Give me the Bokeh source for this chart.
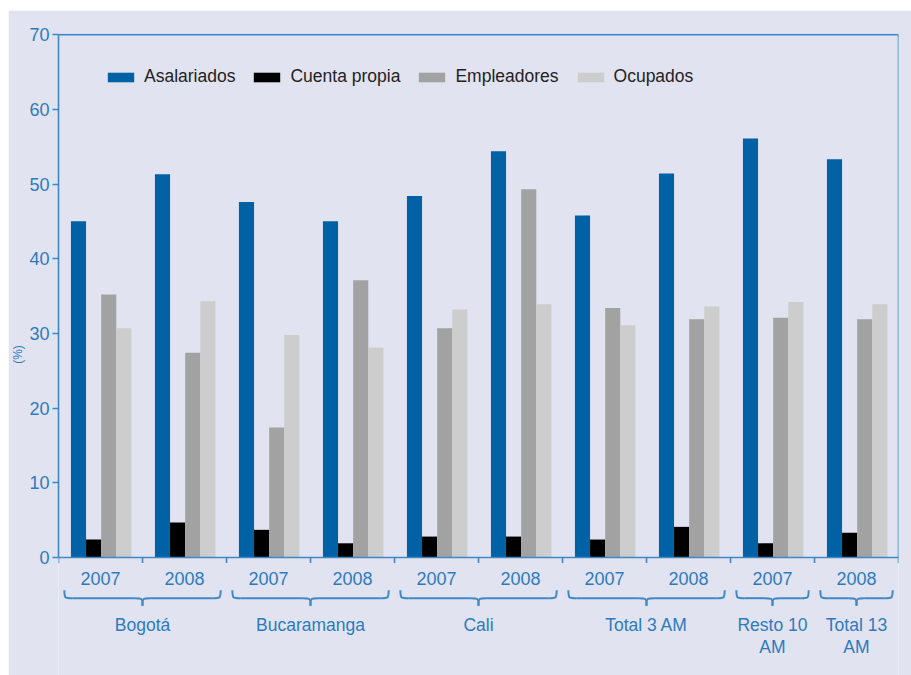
from bokeh.plotting import figure
from bokeh.models import Range1d, FixedTicker, Span, Legend, LegendItem, Spacer
from bokeh.layouts import column, row
from bokeh.core.properties import value
from bokeh.embed import file_html
from bokeh.resources import INLINE

# ---- data ----
years = ["2007", "2008", "2007", "2008", "2007", "2008", "2007", "2008", "2007", "2008"]
groups = ["Bogotá", "Bucaramanga", "Cali", "Total 3 AM", "Resto 10\nAM", "Total 13\nAM"]
group_sizes = [2, 2, 2, 2, 1, 1]
asalariados = [45.0, 51.3, 47.6, 45.0, 48.4, 54.4, 45.8, 51.4, 56.1, 53.3]
cuenta_propia = [2.4, 4.7, 3.7, 1.9, 2.8, 2.8, 2.4, 4.1, 1.9, 3.3]
empleadores = [35.2, 27.4, 17.4, 37.1, 30.7, 49.3, 33.4, 31.9, 32.1, 31.9]
ocupados = [30.7, 34.3, 29.8, 28.1, 33.2, 33.9, 31.1, 33.6, 34.2, 33.9]
series_names = ["Asalariados", "Cuenta propia", "Empleadores", "Ocupados"]
y_ticks = [0, 10, 20, 30, 40, 50, 60, 70]

# ---- style ----
BG = "#e2e3f0"
AXIS = "#3f88c5"
TEXT = "#2d7bbd"
COLORS = ["#0061a4", "#000000", "#a2a2a2", "#cdcdcd"]
FONT = "Liberation Sans"

W, H = 903, 665
p = figure(width=W, height=H, output_backend="svg", toolbar_location=None,
           x_range=Range1d(0, 10), y_range=Range1d(-15.8, 70.15),
           min_border_left=50, min_border_right=13, min_border_top=23, min_border_bottom=0)
p.background_fill_color = BG
p.border_fill_color = BG
p.outline_line_color = None
p.grid.visible = False
p.xaxis.visible = False

ya = p.yaxis[0]
ya.bounds = (0, 70)
ya.ticker = FixedTicker(ticks=y_ticks)
ya.axis_line_color = AXIS
ya.axis_line_width = 1.6
ya.major_tick_line_color = AXIS
ya.major_tick_line_width = 1.6
ya.major_tick_out = 6
ya.major_tick_in = 0
ya.minor_tick_line_color = None
ya.major_label_text_color = TEXT
ya.major_label_text_font = FONT
ya.major_label_text_font_size = "18px"
ya.major_label_standoff = 3
ya.axis_label = "(%)"
ya.axis_label_text_color = TEXT
ya.axis_label_text_font_size = "12px"
ya.axis_label_text_font_style = "normal"
ya.axis_label_standoff = 1

n = len(years)
xs = [i + 0.5 for i in range(n)]
offsets = [-0.262, -0.082, 0.098, 0.278]
renderers = []
for vals, off, col in zip([asalariados, cuenta_propia, empleadores, ocupados], offsets, COLORS):
    r = p.vbar(x=[x + off for x in xs], top=vals, bottom=0, width=0.18,
               fill_color=col, line_color=None)
    renderers.append(r)

# frame lines: baseline, top, right
p.add_layout(Span(location=0, dimension="width", line_color=AXIS, line_width=1.6))
p.segment(x0=[0], y0=[70], x1=[10], y1=[70], line_color=AXIS, line_width=1.6)
p.segment(x0=[10], y0=[0], x1=[10], y1=[70], line_color=AXIS, line_width=1.6)
# category boundary ticks
bx = list(range(n + 1))
p.segment(x0=bx, y0=[0] * len(bx), x1=bx, y1=[-0.75] * len(bx), line_color=AXIS, line_width=1.6)

# year labels
p.text(x=xs, y=[-2.75] * n, text=years, text_align="center", text_baseline="middle",
       text_color=TEXT, text_font=value(FONT), text_font_size="18px")

# braces and group labels
starts, ends = [], []
s = 0
for g in group_sizes:
    starts.append(s)
    ends.append(s + g)
    s += g
yt, ym, yb = -4.4, -5.45, -6.45
bz = dict(x0=[], y0=[], x1=[], y1=[], cx0=[], cy0=[], cx1=[], cy1=[])
lines_x0, lines_x1 = [], []
def add_bz(x0, y0, x1, y1, cx0, cy0, cx1, cy1):
    for k, v in zip(["x0", "y0", "x1", "y1", "cx0", "cy0", "cx1", "cy1"], [x0, y0, x1, y1, cx0, cy0, cx1, cy1]):
        bz[k].append(v)
for st, en in zip(starts, ends):
    a0, a1 = st + 0.07, en - 0.07
    c = (st + en) / 2
    d = 0.1
    add_bz(a0, yt, a0 + d, ym, a0, ym, a0, ym)
    add_bz(a1, yt, a1 - d, ym, a1, ym, a1, ym)
    add_bz(c - d, ym, c, yb, c, ym, c, ym)
    add_bz(c + d, ym, c, yb, c, ym, c, ym)
    lines_x0 += [a0 + d, c + d]
    lines_x1 += [c - d, a1 - d]
p.bezier(line_color=AXIS, line_width=2, **bz)
p.segment(x0=lines_x0, y0=[ym] * len(lines_x0), x1=lines_x1, y1=[ym] * len(lines_x1),
          line_color=AXIS, line_width=2)
centers = [(a + b) / 2 for a, b in zip(starts, ends)]
p.text(x=centers, y=[-7.7] * len(centers), text=groups, text_align="center", text_baseline="top",
       text_color=TEXT, text_font=value(FONT), text_font_size="17.5px",
       text_line_height=1.1)

legend = Legend(items=[LegendItem(label=nm, renderers=[r]) for nm, r in zip(series_names, renderers)],
                orientation="horizontal", location=(46, 588))
legend.background_fill_alpha = 0
legend.border_line_color = None
legend.glyph_width = 33
legend.glyph_height = 12
legend.label_height = 12
legend.label_standoff = 7
legend.spacing = 15
legend.padding = 0
legend.margin = 0
legend.label_text_font = FONT
legend.label_text_font_size = "17.5px"
legend.label_text_color = "#222222"
p.add_layout(legend)

layout = column(Spacer(height=10), row(Spacer(width=8), p))
open("out.html", "w").write(file_html(layout, INLINE))
